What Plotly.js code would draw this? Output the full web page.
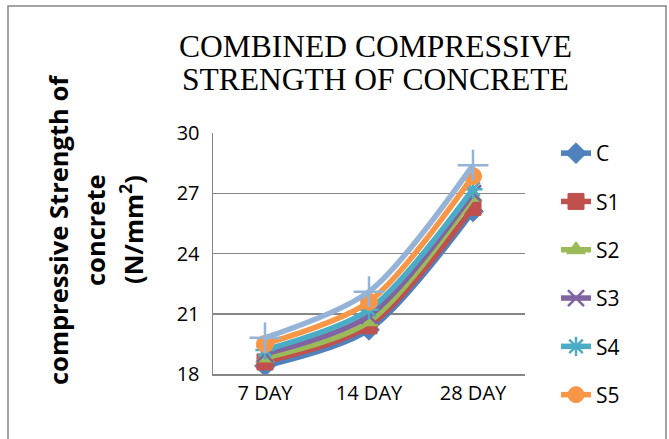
<!DOCTYPE html>
<html>
<head>
<meta charset="utf-8">
<script src="https://cdn.plot.ly/plotly-3.0.1.min.js"></script>
<style>html,body{margin:0;padding:0;background:#fff;}#chart{width:669px;height:439px;}</style>
</head>
<body>
<div id="chart"></div>
<script>
const categories = ["7 DAY", "14 DAY", "28 DAY"];
const seriesNames = ["C", "S1", "S2", "S3", "S4", "S5", "S6"];
const C  = [18.4, 20.2, 26.1];
const S1 = [18.6, 20.4, 26.3];
const S2 = [18.8, 20.6, 26.8];
const S3 = [19.0, 20.9, 27.0];
const S4 = [19.2, 21.2, 27.2];
const S5 = [19.5, 21.6, 27.85];
const S6 = [19.8, 22.1, 28.4];
const yTicks = [18, 21, 24, 27, 30];

const values = [C, S1, S2, S3, S4, S5, S6];
const colors = ["#4F81BD", "#C0504D", "#9BBB59", "#8064A2", "#4BACC6", "#F79646", "#95B3D7"];
const symbols = ["diamond", "square", "triangle-up", "x-thin", "asterisk", "circle", "cross-thin"];
const msizes = [16, 16, 16, 16, 16, 17, 22];

const traces = values.map((v, i) => {
  const thin = symbols[i].indexOf("thin") >= 0 || symbols[i] === "asterisk";
  return {
    type: "scatter",
    mode: "lines+markers",
    name: seriesNames[i],
    x: categories,
    y: v,
    legendgroup: seriesNames[i],
    showlegend: i < 6,
    line: {color: colors[i], width: 5.5, shape: "spline", smoothing: 0.8},
    marker: {
      symbol: symbols[i],
      size: msizes[i],
      color: colors[i],
      line: thin ? {color: colors[i], width: 2.5} : {color: colors[i], width: 1}
    }
  };
});

const layout = {
  width: 669,
  height: 439,
  margin: {l: 213, r: 144, t: 133, b: 65, autoexpand: false},
  paper_bgcolor: "#ffffff",
  plot_bgcolor: "#ffffff",
  showlegend: true,
  xaxis: {
    type: "category",
    range: [-0.5, 2.5],
    showgrid: false,
    showline: true,
    linecolor: "#868686",
    linewidth: 1.5,
    ticks: "",
    tickfont: {family: "Open Sans, Liberation Sans, sans-serif", size: 20, color: "#000"},
    zeroline: false
  },
  yaxis: {
    range: [18, 30],
    tickvals: yTicks,
    ticktext: yTicks.map(String),
    showgrid: true,
    gridcolor: "#868686",
    gridwidth: 1.5,
    showline: true,
    linecolor: "#868686",
    linewidth: 1.5,
    ticks: "",
    ticklabelstandoff: 8,
    tickfont: {family: "Open Sans, Liberation Sans, sans-serif", size: 20, color: "#000"},
    zeroline: false
  },
  legend: {
    x: (556 - 213) / 312, xanchor: "left",
    y: (374 - 133) / 241, yanchor: "top",
    font: {family: "Open Sans, Liberation Sans, sans-serif", size: 21, color: "#000"},
    traceorder: "grouped",
    tracegroupgap: 18,
    maxheight: 400,
    bgcolor: "rgba(0,0,0,0)"
  },
  annotations: [
    {text: "COMBINED COMPRESSIVE", xref: "paper", yref: "paper", x: 0.5, y: (374 - 47) / 241, xanchor: "center", yanchor: "middle", showarrow: false, xshift: 6,
     font: {family: "Liberation Serif, Times New Roman, serif", size: 31.5, color: "#000"}},
    {text: "STRENGTH OF CONCRETE", xref: "paper", yref: "paper", x: 0.5, y: (374 - 80) / 241, xanchor: "center", yanchor: "middle", showarrow: false, xshift: 6,
     font: {family: "Liberation Serif, Times New Roman, serif", size: 31.5, color: "#000"}},
    {text: "<b>compressive Strength of</b>", xref: "paper", yref: "paper", x: (58 - 213) / 312, y: (374 - 230) / 241, xanchor: "center", yanchor: "middle", textangle: -90, showarrow: false,
     font: {family: "Open Sans, Liberation Sans, sans-serif", size: 25.5, color: "#000"}},
    {text: "<b>concrete</b>", xref: "paper", yref: "paper", x: (95 - 213) / 312, y: (374 - 230) / 241, xanchor: "center", yanchor: "middle", textangle: -90, showarrow: false,
     font: {family: "Open Sans, Liberation Sans, sans-serif", size: 25.5, color: "#000"}},
    {text: "<b>(N/mm<sup>2</sup>)</b>", xref: "paper", yref: "paper", x: (131 - 213) / 312, y: (374 - 230) / 241, xanchor: "center", yanchor: "middle", textangle: -90, showarrow: false,
     font: {family: "Open Sans, Liberation Sans, sans-serif", size: 25.5, color: "#000"}}
  ],
  shapes: [
    {type: "rect", xref: "paper", yref: "paper",
     x0: (8 - 213) / 312, x1: (666 - 213) / 312, y0: (374 - 445) / 241, y1: (374 - 6) / 241,
     line: {color: "#868686", width: 1.5}, fillcolor: "rgba(0,0,0,0)", layer: "below"}
  ]
};

Plotly.newPlot("chart", traces, layout, {displayModeBar: false, staticPlot: true});
</script>
</body>
</html>
